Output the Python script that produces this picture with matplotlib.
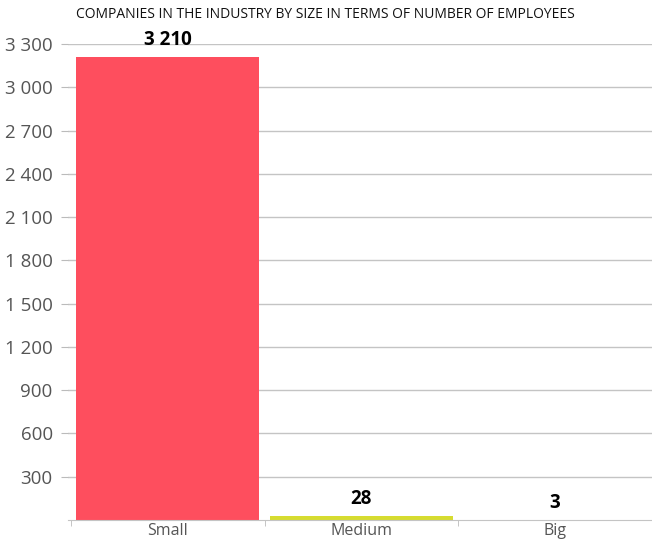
import numpy as np
import matplotlib.pyplot as plt

title = "COMPANIES IN THE INDUSTRY BY SIZE IN TERMS OF NUMBER OF EMPLOYEES"
categories = ["Small", "Medium", "Big"]
values = [3210, 28, 3]
bar_colors = ["#FE4E5E", "#D6DC30", "#D6DC30"]
y_ticks = [300, 600, 900, 1200, 1500, 1800, 2100, 2400, 2700, 3000, 3300]


def fmt(v):
    return f"{v:,}".replace(",", " ")


plt.rcParams['font.family'] = ['Open Sans', 'DejaVu Sans']

W, H = 652, 545
fig = plt.figure(figsize=(W / 100, H / 100), dpi=100)
ax = fig.add_axes([68 / W, 1 - 520 / H, (652 - 68) / W, (520 - 44) / H])

x = np.arange(len(categories))
ax.bar(x, values, width=0.945, color=bar_colors, linewidth=0, zorder=2)

for xi, v in zip(x, values):
    ax.text(xi, v + 45, fmt(v), ha='center', va='bottom',
            fontsize=13.5, fontweight='bold', color='black')

ax.set_ylim(0, 3300)
ax.set_xlim(-0.515, 2.5)
ax.set_yticks(y_ticks)
ax.set_yticklabels([fmt(t) for t in y_ticks], fontsize=13.5, color='#555555')
ax.tick_params(axis='y', length=5, color='#bbbbbb', pad=6)
ax.grid(axis='y', color='#c4c4c4', linewidth=1, zorder=0)

ax.set_xticks(x)
ax.set_xticklabels(categories, fontsize=11.5, color='#555555')
ax.set_xticks([-0.5, 0.5, 1.5, 2.5], minor=True)
ax.tick_params(axis='x', which='major', length=0, pad=2)
ax.tick_params(axis='x', which='minor', length=4, color='#bbbbbb')

for s in ['top', 'right', 'left']:
    ax.spines[s].set_visible(False)
ax.spines['bottom'].set_color('#c4c4c4')

fig.text(325 / W, 1 - 14 / H, title, ha='center', va='center',
         fontsize=10, color='#111111')

fig.savefig("out.png", dpi=100)
